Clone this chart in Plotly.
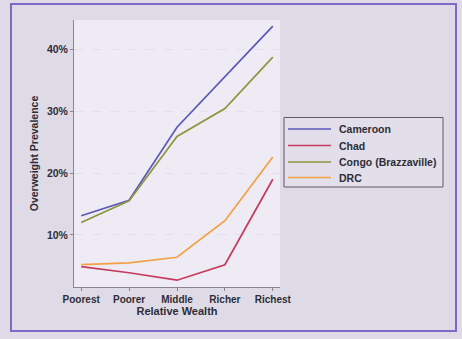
import plotly.graph_objects as go

# Overweight prevalence by wealth quintile
wealth = ["Poorest", "Poorer", "Middle", "Richer", "Richest"]
cameroon = [13.1, 15.6, 27.4, 35.6, 43.7]
chad = [4.9, 3.9, 2.7, 5.2, 19.0]
congo = [12.0, 15.5, 25.9, 30.4, 38.7]
drc = [5.2, 5.5, 6.4, 12.3, 22.6]

y_ticks = [10, 20, 30, 40]
y_tick_text = ["10%", "20%", "30%", "40%"]

series = [
    ("Cameroon", cameroon, "#5b58b8"),
    ("Chad", chad, "#c63a5c"),
    ("Congo (Brazzaville)", congo, "#8c963c"),
    ("DRC", drc, "#f2a143"),
]

W, H = 462, 339
L, R, T, B = 74, 182, 20, 52
pw, ph = W - L - R, H - T - B

FAMILY = "Liberation Sans, Arial, sans-serif"
INK = "#2e2d36"


def px_x(p):
    return (p - L) / pw


def px_y(p):
    return (H - B - p) / ph


fig = go.Figure()
for name, vals, color in series:
    fig.add_trace(go.Scatter(
        x=list(range(len(wealth))), y=vals, name=name, mode="lines",
        line=dict(color=color, width=1.7), showlegend=False,
    ))

# Boxed key on the right of the plot
shapes = [
    dict(type="rect", xref="paper", yref="paper",
         x0=px_x(11), x1=px_x(456), y0=px_y(331), y1=px_y(4),
         line=dict(color="#7a6cc6", width=2), layer="below"),
    dict(type="rect", xref="paper", yref="paper",
         x0=px_x(284), x1=px_x(443), y0=px_y(187), y1=px_y(117.5),
         line=dict(color="#5c5a62", width=1), fillcolor="#e2dfea", layer="below"),
]
annotations = []
row_y = [129, 145.5, 162, 177.5]
for (name, _, color), ry in zip(series, row_y):
    shapes.append(dict(type="line", xref="paper", yref="paper",
                       x0=px_x(288), x1=px_x(331), y0=px_y(ry), y1=px_y(ry),
                       line=dict(color=color, width=1.7)))
    annotations.append(dict(text=name, xref="paper", yref="paper",
                            x=px_x(337), y=px_y(ry), xanchor="left", yanchor="middle",
                            showarrow=False,
                            font=dict(family=FAMILY, size=10.5, color=INK, weight="bold")))

fig.update_layout(
    width=W, height=H,
    margin=dict(l=L, r=R, t=T, b=B),
    paper_bgcolor="#dedbe7",
    plot_bgcolor="#eeebf4",
    font=dict(family=FAMILY, size=10, color=INK),
    showlegend=False,
    xaxis=dict(
        tickmode="array", tickvals=list(range(len(wealth))), ticktext=wealth,
        range=[-0.15, 4.15], showgrid=False, zeroline=False,
        showline=True, linecolor="#8a8690", linewidth=1,
        ticks="outside", ticklen=3, tickcolor="#8a8690",
        title=dict(text="Relative Wealth", standoff=0,
                   font=dict(family=FAMILY, size=11, color=INK, weight="bold")),
        tickfont=dict(size=10, family=FAMILY, color=INK, weight="bold"),
    ),
    yaxis=dict(
        tickmode="array", tickvals=y_ticks, ticktext=y_tick_text,
        range=[1.6, 44.7], showgrid=True, gridcolor="#e3e0eb", griddash="dash",
        zeroline=False, showline=True, linecolor="#8a8690", linewidth=1,
        ticks="outside", ticklen=3, tickcolor="#8a8690",
        title=dict(text="Overweight Prevalence", standoff=6,
                   font=dict(family=FAMILY, size=10.5, color=INK, weight="bold")),
        tickfont=dict(size=10.5, family=FAMILY, color=INK, weight="bold"),
    ),
    shapes=shapes,
    annotations=annotations,
)

fig.write_html("out.html")
